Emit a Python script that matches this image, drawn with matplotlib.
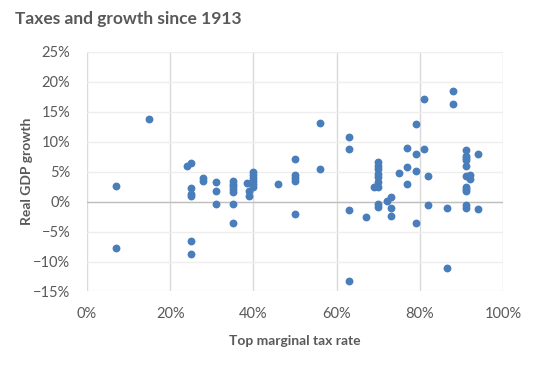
import numpy as np
import matplotlib.pyplot as plt
from matplotlib.ticker import PercentFormatter

# top marginal tax rate (%) and real GDP growth (%)
tax_rate = [7, 7, 15, 24, 25, 25, 25, 25, 25, 25,
            28, 28, 31, 31, 31,
            35, 35, 35, 35, 35, 35, 35,
            38.5, 39, 39, 40, 40, 40, 40, 40, 40,
            46, 50, 50, 50, 50, 50, 56, 56,
            63, 63, 63, 63, 67, 69,
            70, 70, 70, 70, 70, 70, 70, 70, 70,
            72, 73, 73, 73, 75, 77, 77, 77,
            79, 79, 79, 79, 81, 81, 82, 82, 86.5, 86.5, 88, 88,
            91, 91, 91, 91, 91, 91, 91, 91, 91, 91, 91,
            92, 92, 94, 94]
gdp_growth = [2.6, -7.7, 13.8, 6.0, 6.45, 2.3, 1.3, 1.0, -6.6, -8.7,
              3.95, 3.4, 3.2, 1.7, -0.4,
              3.5, 2.95, 2.55, 2.1, 1.55, -0.4, -3.55,
              3.1, 1.7, 1.0, 4.9, 4.4, 3.9, 3.4, 2.9, 2.5,
              2.9, 7.05, 4.45, 3.95, 3.45, -2.1, 13.1, 5.45,
              10.7, 8.8, -1.45, -13.2, -2.55, 2.4,
              6.55, 6.0, 5.45, 4.6, 4.05, 3.2, 2.5, -0.4, -0.85,
              0.1, 0.75, -1.05, -2.4, 4.8, 8.95, 5.8, 2.95,
              12.95, 7.95, 5.1, -3.55, 17.1, 8.8, 4.3, -0.55, -1.05, -11.05, 18.4, 16.3,
              8.6, 7.65, 7.3, 6.95, 5.9, 4.3, 2.5, 2.1, 1.8, -0.6, -1.05,
              4.5, 3.7, 7.95, -1.2]

x_ticks = [0, 20, 40, 60, 80, 100]
y_ticks = [-15, -10, -5, 0, 5, 10, 15, 20, 25]

plt.rcParams['font.family'] = ['Lato', 'DejaVu Sans']
txt_color = '#595959'

fig = plt.figure(figsize=(5.36, 3.73), dpi=100)
ax = fig.add_axes([0.1623, 0.2185, 0.7761, 0.6429])

ax.scatter(tax_rate, gdp_growth, s=32, color='#4a7ebb', zorder=3, linewidths=0)

ax.set_xlim(0, 100)
ax.set_ylim(-15, 25)
ax.set_xticks(x_ticks)
ax.set_yticks(y_ticks)
ax.xaxis.set_major_formatter(PercentFormatter(decimals=0))
ax.yaxis.set_major_formatter(PercentFormatter(decimals=0))

# gridlines: vertical darker, horizontal faint
for x in x_ticks:
    ax.axvline(x, color='#d9d9d9', lw=1, zorder=1)
for y in y_ticks:
    ax.axhline(y, color='#eeeeee', lw=1, zorder=1)
ax.axhline(0, color='#bfbfbf', lw=1, zorder=2)

for s in ax.spines.values():
    s.set_visible(False)
ax.tick_params(length=0, labelsize=10.5, labelcolor=txt_color)
ax.tick_params(axis='x', pad=11)
ax.tick_params(axis='y', pad=12)

ax.set_xlabel('Top marginal tax rate', fontsize=10, fontweight='bold',
              color=txt_color, labelpad=10)
ax.set_ylabel('Real GDP growth', fontsize=10, fontweight='bold',
              color=txt_color, labelpad=0)

fig.text(0.028, 0.95, 'Taxes and growth since 1913', fontsize=12.5,
         fontweight='bold', color=txt_color, va='center', ha='left')

fig.savefig('out.png', dpi=100)
